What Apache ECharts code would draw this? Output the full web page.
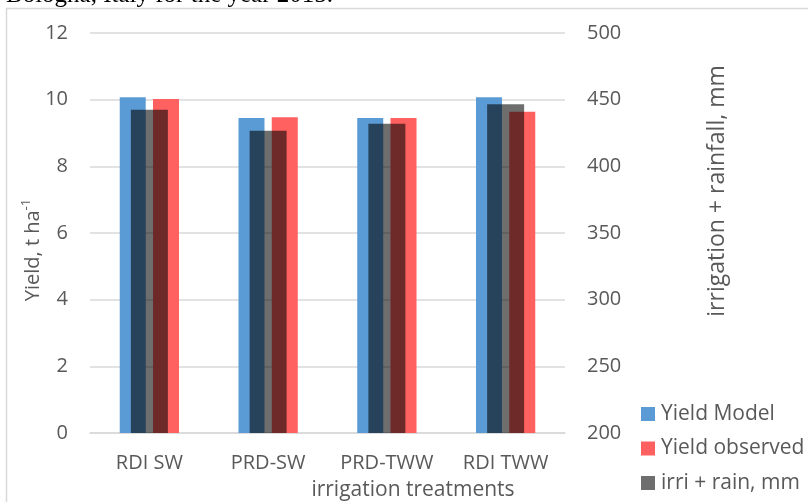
<!DOCTYPE html>
<html>
<head>
<meta charset="utf-8">
<script src="https://cdn.jsdelivr.net/npm/echarts@6/dist/echarts.min.js"></script>
<style>html,body{margin:0;padding:0;background:#fff;}#c{width:808px;height:502px;}</style>
</head>
<body>
<div id="c"></div>
<script>
var categories = ['RDI SW', 'PRD-SW', 'PRD-TWW', 'RDI TWW'];
var yieldModel = [10.07, 9.45, 9.45, 10.07];
var yieldObserved = [10.02, 9.47, 9.45, 9.64];
var irriRain = [442.5, 426.7, 432, 446.5];
var leftTicks = {min: 0, max: 12, interval: 2};
var rightTicks = {min: 200, max: 500, interval: 50};

var FONT = '"Open Sans", "Noto Sans", sans-serif';
var TXT = '#595959';
var chart = echarts.init(document.getElementById('c'), null, {renderer: 'canvas'});
chart.setOption({
  animation: false,
  backgroundColor: '#ffffff',
  grid: {left: 90, right: 243, top: 33, bottom: 69},
  legend: {
    orient: 'vertical', left: 636, top: 398,
    itemWidth: 14, itemHeight: 14, itemGap: 12.5, icon: 'rect',
    textStyle: {fontFamily: FONT, fontSize: 21, color: TXT, lineHeight: 22, padding: [0, 0, 0, 1]},
    data: ['Yield Model', 'Yield observed', 'irri + rain, mm']
  },
  xAxis: [
    {type: 'category', data: categories, axisTick: {show: false},
     axisLine: {lineStyle: {color: '#d9d9d9', width: 1.5}},
     axisLabel: {fontFamily: FONT, fontSize: 20, color: TXT, margin: 20, interval: 0}},
    {type: 'category', data: categories, show: false}
  ],
  yAxis: [
    {type: 'value', min: leftTicks.min, max: leftTicks.max, interval: leftTicks.interval,
     axisLine: {show: false}, axisTick: {show: false},
     splitLine: {lineStyle: {color: '#d9d9d9', width: 1.5}},
     axisLabel: {fontFamily: FONT, fontSize: 20, color: TXT, margin: 22}},
    {type: 'value', min: rightTicks.min, max: rightTicks.max, interval: rightTicks.interval,
     position: 'right',
     axisLine: {show: false}, axisTick: {show: false}, splitLine: {show: false},
     axisLabel: {fontFamily: FONT, fontSize: 20, color: TXT, margin: 22}}
  ],
  graphic: [
    {type: 'rect', shape: {x: 6.5, y: 8.5, width: 820, height: 520}, style: {fill: 'none', stroke: '#d9d9d9', lineWidth: 1.5}, silent: true},
    {type: 'text', x: 6, y: -5, style: {text: 'Bologna, Italy for the year 2015.', fontFamily: '"Liberation Serif", serif', fontSize: 25, fill: '#000', verticalAlign: 'middle', align: 'left'}},
    {type: 'text', x: 33, y: 250, rotation: Math.PI / 2,
     style: {text: '{n|Yield, t ha}{sup|-1}', align: 'center', verticalAlign: 'middle',
       rich: {
         n: {fontFamily: FONT, fontSize: 20, fill: TXT, lineHeight: 26},
         sup: {fontFamily: FONT, fontSize: 13, fill: TXT, verticalAlign: 'top', lineHeight: 26, padding: [0, 0, 12, 0]}
       }}},
    {type: 'text', x: 717, y: 191, rotation: Math.PI / 2,
     style: {text: 'irrigation + rainfall, mm', fontFamily: FONT, fontSize: 23, fill: TXT, align: 'center', verticalAlign: 'middle'}},
    {type: 'text', x: 413, y: 490,
     style: {text: 'irrigation treatments', fontFamily: FONT, fontSize: 21, fill: TXT, align: 'center', verticalAlign: 'middle'}}
  ],
  series: [
    {name: 'Yield Model', type: 'bar', xAxisIndex: 0, yAxisIndex: 0, data: yieldModel,
     barWidth: 26, barGap: '28%', itemStyle: {color: '#5B9BD5'}},
    {name: 'Yield observed', type: 'bar', xAxisIndex: 0, yAxisIndex: 0, data: yieldObserved,
     barWidth: 26, barGap: '28%', itemStyle: {color: '#FF6060'}},
    {name: 'irri + rain, mm', type: 'bar', xAxisIndex: 1, yAxisIndex: 1, data: irriRain,
     barWidth: 37, itemStyle: {color: 'rgba(0,0,0,0.57)'}}
  ]
});
</script>
</body>
</html>
